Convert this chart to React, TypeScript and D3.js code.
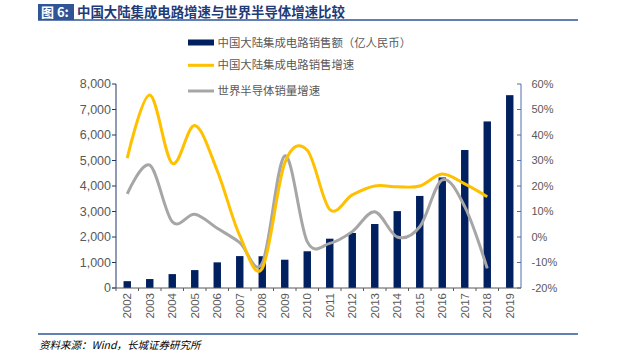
import React from "react";
import * as d3 from "d3";

const years = ["2002","2003","2004","2005","2006","2007","2008","2009","2010","2011","2012","2013","2014","2015","2016","2017","2018","2019"];
const sales = [268, 351, 545, 702, 1006, 1251, 1246, 1109, 1440, 1934, 2158, 2509, 3015, 3610, 4336, 5411, 6532, 7562];
const chinaGrowth = [30.9, 55.7, 28.9, 43.7, 26, 0.5, -12.3, 29, 34, 10.8, 16.5, 20, 19.7, 20, 24.7, 20.8, 15.8];
const worldGrowth = [16.9, 28.2, 6, 8.9, 3.4, -2.2, -10.3, 31.8, -1.8, -2.5, 2.1, 9.9, 0, 4, 22.4, 11.9, -12.3];
const leftTicks = [0, 1000, 2000, 3000, 4000, 5000, 6000, 7000, 8000];
const rightTicks = [-20, -10, 0, 10, 20, 30, 40, 50, 60];
const legendLabels = ["中国大陆集成电路销售额（亿人民币）", "中国大陆集成电路销售增速", "世界半导体销量增速"];
const titleText = "中国大陆集成电路增速与世界半导体增速比较";
const figLabel = "图 6:";
const sourceText = "资料来源：Wind，长城证券研究所";

const NAVY = "#002060";
const YELLOW = "#FFC000";
const GRAY = "#A6A6A6";
const TXT = "#595959";
const FONT = "'Liberation Sans', Arial, sans-serif";
const CJK = "'Noto Sans CJK SC', sans-serif";

export default function App() {
  const x0 = 116, x1 = 521, yTop = 84, yBot = 288;
  const x = d3.scaleBand<string>().domain(years).range([x0, x1]).paddingInner(0.67).paddingOuter(0.335);
  const band = d3.scaleBand<string>().domain(years).range([x0, x1]);
  const yL = d3.scaleLinear().domain([0, 8000]).range([yBot, yTop]);
  const yR = d3.scaleLinear().domain([-20, 60]).range([yBot, yTop]);
  const cx = (i: number) => (band(years[i]) as number) + band.bandwidth() / 2;
  const line = d3.line<number>().x((_, i) => cx(i)).y((v) => yR(v)).curve(d3.curveCardinal.tension(0));

  return (
    <svg width={624} height={359} style={{ position: "absolute", left: 0, top: 0, background: "#fff" }}>
      {/* header */}
      <rect x={38} y={4} width={36} height={16} fill="#2F5597" />
      <text x={41} y={17} fill="#fff" fontFamily={CJK} fontWeight="bold" fontSize={13}>{figLabel}</text>
      <text x={77} y={17} fill="#1F3B78" fontFamily={CJK} fontWeight="bold" fontSize={13.4}>{titleText}</text>
      <line x1={38} x2={578} y1={20} y2={20} stroke="#2F5597" strokeWidth={1.5} />

      {/* legend */}
      <rect x={188} y={39.5} width={26} height={6} fill={NAVY} />
      <line x1={188} x2={214} y1={65.3} y2={65.3} stroke={YELLOW} strokeWidth={3} />
      <line x1={188} x2={214} y1={91} y2={91} stroke={GRAY} strokeWidth={3} />
      {legendLabels.map((t, i) => (
        <text key={t} x={217.5} y={[42.5, 65.3, 91][i] + 4} fill={TXT} fontFamily={CJK} fontSize={11.4}>{t}</text>
      ))}

      {/* bars */}
      {sales.map((v, i) => (
        <rect key={years[i]} x={x(years[i])} y={yL(v)} width={x.bandwidth()} height={yBot - yL(v)} fill={NAVY} />
      ))}

      {/* lines */}
      <path d={line(worldGrowth) || ""} fill="none" stroke={GRAY} strokeWidth={3} />
      <path d={line(chinaGrowth) || ""} fill="none" stroke={YELLOW} strokeWidth={3} />

      {/* left axis */}
      <line x1={x0} x2={x0} y1={yTop} y2={yBot} stroke="#1F3864" strokeWidth={1} />
      {leftTicks.map((t) => (
        <g key={t}>
          <line x1={x0 - 4} x2={x0} y1={yL(t)} y2={yL(t)} stroke="#1F3864" />
          <text x={111} y={yL(t)} dy="0.35em" textAnchor="end" fill={TXT} fontFamily={FONT} fontSize={12.5}>{d3.format(",")(t)}</text>
        </g>
      ))}

      {/* right axis */}
      <line x1={x1} x2={x1} y1={yTop} y2={yBot} stroke="#4F6FA8" strokeWidth={1} />
      {rightTicks.map((t) => (
        <g key={t}>
          <line x1={x1 - 4} x2={x1} y1={yR(t)} y2={yR(t)} stroke="#4F6FA8" />
          <text x={531.5} y={yR(t)} dy="0.35em" textAnchor="start" fill={TXT} fontFamily={FONT} fontSize={11}>{t + "%"}</text>
        </g>
      ))}

      {/* bottom axis */}
      <line x1={x0 - 4} x2={x1} y1={yBot} y2={yBot} stroke="#595959" strokeWidth={1} />
      {years.map((yr) => (
        <line key={"t" + yr} x1={band(yr) as number} x2={band(yr) as number} y1={yBot} y2={yBot + 3} stroke="#595959" />
      ))}
      {years.map((yr, i) => (
        <text key={yr} transform={`translate(${cx(i)},293) rotate(-90)`} dy="0.35em" textAnchor="end" fill={TXT} fontFamily={FONT} fontSize={11.5}>{yr}</text>
      ))}

      {/* footer */}
      <line x1={38} x2={578} y1={334} y2={334} stroke="#2F5597" strokeWidth={1.5} />
      <text x={39} y={349} fill="#000" fontFamily={CJK} fontStyle="italic" fontSize={10.5}>{sourceText}</text>
    </svg>
  );
}
